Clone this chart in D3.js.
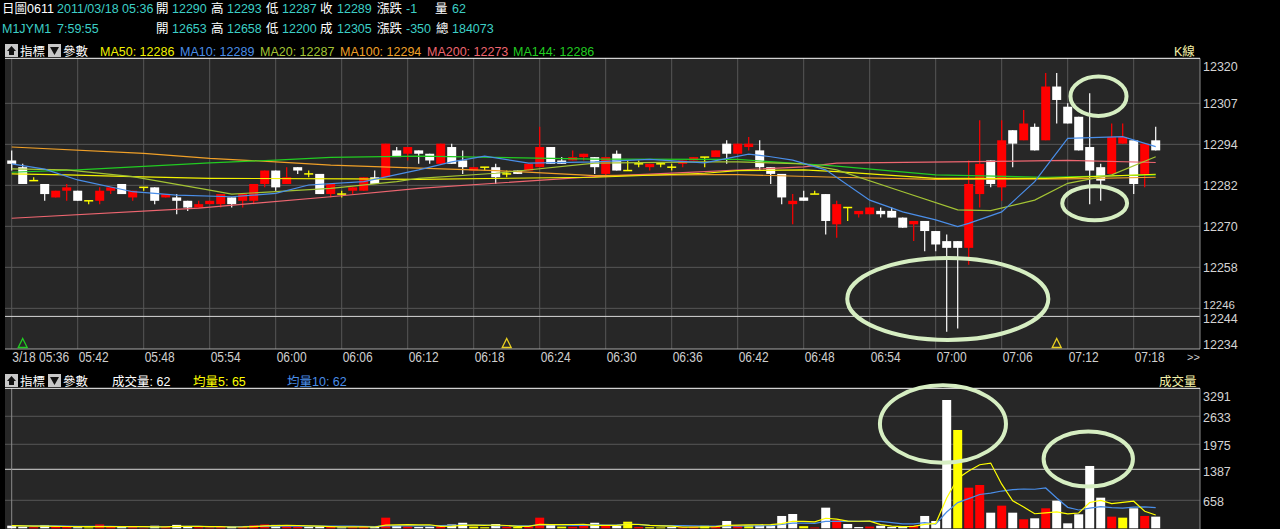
<!DOCTYPE html>
<html><head><meta charset="utf-8">
<script src="https://cdn.jsdelivr.net/npm/d3@7"></script>
<style>
html,body{margin:0;padding:0;background:#000;overflow:hidden;}
svg{display:block;}
text{font-family:"Liberation Sans","Noto Sans CJK TC",sans-serif;}
</style></head>
<body>
<svg id="c" width="1280" height="529"></svg>
<script>
// ---------------- DATA ----------------
const prevClose = 12290;
const open = [12290,12288,12284,12283,12279,12281,12281,12278,12278,12281,
12283,12279,12282,12282,12279,12279,12278,12276,12277,12277,
12279,12278,12278,12283,12287,12283,12288,12286,12286,12280,
12280,12281,12281,12285,12285,12293,12292,12293,12292,12289,
12294,12290,12287,12288,12288,12286,12287,12287,12288,12294,
12290,12290,12291,12291,12286,12292,12287,12289,12288,12289,
12288,12289,12290,12291,12291,12295,12292,12294,12293,12288,
12286,12277,12279,12280,12280,12271,12276,12274,12274,12275,
12275,12273,12271,12272,12269,12266,12266,12264,12280,12290,
12282,12299,12296,12300,12296,12312,12306,12303,12294,12288,
12286,12295,12296,12286,12296];
const high = [12293,12289,12285,12283,12281,12283,12281,12278,12282,12282,
12283,12281,12282,12282,12280,12280,12278,12278,12278,12280,
12279,12280,12283,12287,12287,12288,12288,12287,12286,12283,
12281,12282,12285,12287,12295,12294,12294,12293,12292,12295,
12295,12293,12288,12288,12289,12287,12287,12289,12300,12294,
12291,12293,12292,12291,12291,12293,12290,12290,12289,12289,
12289,12290,12291,12291,12293,12296,12295,12297,12296,12288,
12286,12280,12281,12281,12280,12278,12276,12275,12276,12276,
12276,12273,12272,12272,12269,12268,12266,12290,12302,12290,
12302,12299,12305,12301,12316,12316,12307,12303,12310,12289,
12301,12301,12296,12295,12300];
const low = [12287,12283,12284,12278,12279,12278,12278,12277,12277,12280,
12280,12278,12281,12277,12279,12274,12275,12276,12277,12276,
12276,12276,12277,12282,12281,12283,12286,12285,12280,12279,
12279,12280,12281,12283,12285,12291,12290,12289,12289,12289,
12289,12286,12287,12287,12283,12285,12286,12287,12288,12289,
12289,12290,12290,12286,12285,12287,12287,12288,12287,12288,
12287,12288,12290,12288,12291,12289,12292,12293,12287,12283,
12277,12271,12278,12280,12268,12267,12272,12273,12274,12273,
12273,12270,12266,12263,12263,12239,12240,12259,12276,12282,
12278,12288,12296,12293,12296,12301,12301,12293,12277,12278,
12286,12295,12280,12282,12293];
const close = [12289,12283,12284,12280,12281,12282,12278,12278,12281,12282,
12280,12281,12282,12278,12280,12278,12276,12277,12278,12280,
12277,12280,12283,12287,12282,12285,12287,12286,12280,12283,
12280,12282,12285,12283,12295,12291,12294,12292,12290,12295,
12289,12288,12288,12288,12285,12286,12286,12289,12294,12289,
12289,12291,12292,12288,12291,12287,12287,12289,12289,12289,
12288,12290,12291,12291,12293,12292,12295,12295,12288,12286,
12279,12278,12278,12280,12272,12277,12276,12275,12276,12274,
12273,12270,12272,12269,12265,12264,12264,12283,12289,12283,
12296,12295,12301,12293,12312,12308,12301,12293,12287,12284,
12297,12297,12283,12295,12293];
const volume = [62,40,25,78,30,35,25,20,90,30,
35,30,15,60,30,80,35,25,20,30,
40,45,70,90,80,50,40,35,50,30,
20,25,45,30,250,60,40,30,35,70,
90,130,40,25,100,35,30,40,250,80,
40,35,60,130,70,60,155,30,25,20,
30,25,40,60,45,172,60,70,70,60,
290,336,50,20,485,195,101,30,40,60,
30,30,61,290,172,3016,2311,955,1018,367,
532,367,211,235,470,650,117,329,1465,720,
274,250,470,290,274];
const volMa5 = [65,55,50,52,47,42,39,38,40,40,40,41,40,34,34,43,44,46,38,38,
30,32,41,55,65,67,66,59,51,41,35,32,34,30,74,82,85,82,83,47,
53,71,73,71,77,66,46,46,91,87,88,89,93,69,67,71,95,89,68,58,
52,26,28,35,40,68,75,81,83,86,110,165,161,151,236,217,170,166,170,85,
52,38,44,94,117,714,1170,1349,1494,1533,1037,648,499,342,363,387,337,360,606,656,
581,608,636,401,312];
const volMa10 = [62,60,58,57,55,53,47,44,46,44,41,40,39,37,37,42,43,43,36,36,
37,38,44,47,52,49,49,50,53,53,51,49,47,41,58,59,59,58,57,61,
68,78,78,77,62,60,59,60,81,82,77,68,70,80,77,80,92,91,69,63,
62,61,59,52,49,60,51,55,59,63,89,120,121,117,161,164,168,164,161,161,
135,104,105,132,101,383,604,697,794,825,876,909,924,918,948,712,493,430,474,510,
484,473,498,504,484];
// moving averages of price, read at sample candles: [candle index, value]
const ma50 = [[0,12286],[5,12285.7],[11,12285.2],[18,12284.7],[31,12284.5],[37,12284.4],[53,12285],[63,12286.2],[66,12287],[72,12287.2],[75,12286.7],[84,12284.7],[94,12284.7],[104,12285.9]];
const ma10 = [[0,12289],[3,12287.4],[6,12284.2],[11,12280.7],[15,12279.7],[20,12279.2],[24,12280.2],[27,12282.7],[32,12283.7],[37,12287.2],[40,12289.6],[43,12291.3],[47,12289.2],[53,12289.6],[58,12290.3],[63,12289.3],[67,12291.9],[69,12291.1],[71,12290.1],[74,12287.2],[78,12278.2],[81,12274.7],[84,12272.3],[86,12270.3],[87,12271.3],[90,12274.7],[93,12283.7],[96,12296.6],[101,12297.1],[104,12294.1]];
const ma20 = [[0,12287.5],[5,12287.2],[11,12285.2],[18,12281.2],[20,12280],[24,12280.7],[29,12281.7],[35,12283.7],[37,12284.7],[44,12286.2],[53,12289.2],[63,12289.6],[66,12289.6],[72,12289],[75,12287.2],[81,12280.7],[86,12275.3],[89,12275.1],[93,12278.2],[96,12283.2],[100,12285.7],[104,12291.1]];
const ma100 = [[0,12294],[12,12292.1],[18,12290.6],[24,12289.6],[29,12288.6],[37,12287.7],[44,12287],[53,12285.5],[63,12285.8],[66,12285.8],[75,12285],[84,12284.4],[96,12284.5],[104,12285]];
const ma200 = [[0,12272.8],[17,12275.8],[29,12279.2],[37,12281.7],[53,12285.2],[63,12286.7],[72,12288.1],[75,12289.2],[96,12290],[104,12289.4]];
const ma144 = [[0,12286.5],[6,12287.2],[18,12289.3],[24,12290.1],[29,12290.9],[37,12291.3],[53,12290.4],[66,12290.3],[75,12288.3],[84,12285.7],[94,12285],[104,12285.7]];
const maHeader = [["MA50","12286"],["MA10","12289"],["MA20","12287"],["MA100","12294"],["MA200","12273"],["MA144","12286"]];
const timeTickIdx = [0,6,12,18,24,30,36,42,48,54,60,66,72,78,84,90,96,102];
const timeLabels = ["3/18 05:36","05:42","05:48","05:54","06:00","06:06","06:12","06:18","06:24","06:30","06:36","06:42","06:48","06:54","07:00","07:06","07:12","07:18"];
const priceGrid = [12307,12294.8,12282.6,12270.4,12258.2,12246];
const priceGridLabels = ["12307","12294","12282","12270","12258","12246"];
const priceTop = "12320", priceBottom = "12234";
const priceMark = 12243.6, priceMarkLabel = "12244";
const volGrid = [2633,1975,658];
const volMark = 1387;
const volTop = 3291;
const signalIdx = [1,45,95];
const signalType = ["buy","sell","sell"];
// annotation ellipses: [centre index, centre value, half-width in candles, half-height in value]
const priceCircles = [[85.1,12248.8,9.14,12.2],[98.8,12309.1,2.55,5.86],[98.45,12277.3,2.95,5.06]];
const volCircles = [[84.66,2452,5.73,910],[97.87,1629,4.06,647]];

// ---------------- LAYOUT ----------------
const svg = d3.select("#c");
const L = 5, R = 1200;
const mainTop = 58.3, mainBot = 349;
const volTopY = 388.3, volBotY = 528.3;
const x = d3.scaleLinear().domain([0,104]).range([11.7,1155.7]);
const y = d3.scaleLinear().domain([12233.9,12320.4]).range([mainBot,mainTop]);
const yv = d3.scaleLinear().domain([0,volTop]).range([volBotY,volTopY]);
const CYAN = "#3ccfc6", WHITE = "#ffffff", RED = "#ff0000", YEL = "#ffff00";
const maColors = {MA50:"#f2f200",MA10:"#4a8ee8",MA20:"#a4c434",MA100:"#f0a028",MA200:"#ee6670",MA144:"#22cc22"};
const GRID = "#575757";

svg.append("rect").attr("width",1280).attr("height",529).attr("fill","#000");

// ---- header texts ----
function seg(parent, items, yb){
  items.forEach(d=>parent.append("text").attr("x",d[1]).attr("y",yb).attr("fill",d[2]).attr("font-size",12.5).text(d[0]));
}
const g0 = svg.append("g");
seg(g0,[["日圖0611",2,WHITE],["2011/03/18 05:36",57,CYAN],["開",156,WHITE],[String(open[0]),172,CYAN],["高",211,WHITE],[String(high[0]),227,CYAN],
  ["低",266,WHITE],[String(low[0]),282,CYAN],["收",320,WHITE],[String(close[0]),337,CYAN],["漲跌",377,WHITE],[String(close[0]-prevClose),406,CYAN],
  ["量",435,WHITE],[String(volume[0]),452,CYAN]],13);
seg(g0,[["M1JYM1",2,CYAN],["7:59:55",57,CYAN],["開",156,WHITE],["12653",172,CYAN],["高",211,WHITE],["12658",227,CYAN],
  ["低",266,WHITE],["12200",282,CYAN],["成",320,WHITE],["12305",337,CYAN],["漲跌",377,WHITE],["-350",406,CYAN],["總",436,WHITE],["184073",452,CYAN]],33);

function panelIcons(yTop){
  const g = svg.append("g");
  g.append("rect").attr("x",5).attr("y",yTop).attr("width",13).attr("height",13).attr("fill","#c8c8c8");
  g.append("path").attr("d",`M11.5 ${yTop+2} L16 ${yTop+7} L14 ${yTop+7} L14 ${yTop+11} L9 ${yTop+11} L9 ${yTop+7} L7 ${yTop+7} Z`).attr("fill","#111");
  g.append("text").attr("x",20).attr("y",yTop+12).attr("fill",WHITE).attr("font-size",12.5).text("指標");
  g.append("rect").attr("x",48).attr("y",yTop).attr("width",13).attr("height",13).attr("fill","#c8c8c8");
  g.append("path").attr("d",`M50 ${yTop+3} L59 ${yTop+3} L54.5 ${yTop+11} Z`).attr("fill","#111");
  g.append("text").attr("x",63).attr("y",yTop+12).attr("fill",WHITE).attr("font-size",12.5).text("參數");
}
panelIcons(44);
const maX = [100,180,260,340,427,513];
maHeader.forEach((d,i)=>svg.append("text").attr("x",maX[i]).attr("y",56).attr("fill",maColors[d[0]]).attr("font-size",12.5).text(d[0]+": "+d[1]));
svg.append("text").attr("x",1174).attr("y",56).attr("fill","#f4f0a8").attr("font-size",12.5).text("K線");

// ---- main panel ----
svg.append("rect").attr("x",L).attr("y",mainTop).attr("width",R-L).attr("height",mainBot-mainTop).attr("fill","#272727");
const gm = svg.append("g");
timeTickIdx.forEach(i=>gm.append("line").attr("x1",x(i)).attr("x2",x(i)).attr("y1",mainTop).attr("y2",mainBot).attr("stroke",GRID));
priceGrid.forEach(v=>gm.append("line").attr("x1",L).attr("x2",R).attr("y1",y(v)).attr("y2",y(v)).attr("stroke",GRID));
gm.append("line").attr("x1",L).attr("x2",R).attr("y1",y(priceMark)).attr("y2",y(priceMark)).attr("stroke","#d8d8d8");
gm.append("line").attr("x1",R).attr("x2",R).attr("y1",mainTop).attr("y2",mainBot).attr("stroke","#8a8a8a");
gm.append("line").attr("x1",L).attr("x2",R).attr("y1",mainTop).attr("y2",mainTop).attr("stroke","#ffffff");
gm.append("line").attr("x1",L).attr("x2",R).attr("y1",mainBot).attr("y2",mainBot).attr("stroke","#a8a8a8");

// candles
const idx = d3.range(open.length);
const BW = 9;
const gc = svg.append("g");
idx.forEach(i=>{
  const o=open[i], c=close[i];
  const col = c>o?RED:(c<o?WHITE:YEL);
  gc.append("line").attr("x1",x(i)).attr("x2",x(i)).attr("y1",y(high[i])).attr("y2",y(low[i])).attr("stroke",col).attr("stroke-width",1.2);
  if(c===o){
    gc.append("line").attr("x1",x(i)-BW/2).attr("x2",x(i)+BW/2).attr("y1",y(c)).attr("y2",y(c)).attr("stroke",YEL).attr("stroke-width",1.5);
  } else {
    const top=y(Math.max(o,c)), bot=y(Math.min(o,c));
    gc.append("rect").attr("x",x(i)-BW/2).attr("y",top).attr("width",BW).attr("height",Math.max(1,bot-top)).attr("fill",col);
  }
});

// MA lines
const line = d3.line().x(d=>x(d[0])).y(d=>y(d[1]));
[["MA200",ma200],["MA100",ma100],["MA144",ma144],["MA50",ma50],["MA20",ma20],["MA10",ma10]].forEach(([k,pts])=>{
  svg.append("path").attr("d",line(pts)).attr("fill","none").attr("stroke",maColors[k]).attr("stroke-width",1.2);
});

// signals
signalIdx.forEach((i,k)=>{
  const cx=x(i), col = signalType[k]==="buy"?"#22cc22":"#e8d020";
  svg.append("path").attr("d",`M${cx} 338.5 L${cx+4.5} 347.5 L${cx-4.5} 347.5 Z`).attr("fill","none").attr("stroke",col).attr("stroke-width",1.3);
});

// annotation ellipses on price panel
priceCircles.forEach(d=>{
  svg.append("ellipse").attr("cx",x(d[0])).attr("cy",y(d[1]))
    .attr("rx",x(d[0]+d[2])-x(d[0])).attr("ry",y(d[1]-d[3])-y(d[1]))
    .attr("fill","none").attr("stroke","#d6eec2").attr("stroke-width",4);
});

// price axis labels
const ga = svg.append("g").attr("font-size",12.5).attr("fill","#d4d4d4");
ga.append("text").attr("x",1203).attr("y",71).text(priceTop);
priceGrid.forEach((v,i)=>{
  const last = i===priceGrid.length-1;
  ga.append("text").attr("x",1203).attr("y",last?y(v)+1:y(v)+4.5).attr("font-size",last?11.5:12.5).text(priceGridLabels[i]);
});
ga.append("rect").attr("x",1201).attr("y",y(priceMark)-4).attr("width",40).attr("height",12).attr("fill","#000");
ga.append("text").attr("x",1203).attr("y",y(priceMark)+7).text(priceMarkLabel);
ga.append("text").attr("x",1203).attr("y",348.5).text(priceBottom);

// time axis labels (condensed)
const gt = svg.append("g").attr("fill","#cfcfcf").attr("font-size",14);
timeTickIdx.forEach((i,k)=>gt.append("text").attr("x",x(i)+(k===0?0.5:1)).attr("y",362)
  .attr("textLength",k===0?57:30).attr("lengthAdjust","spacingAndGlyphs").text(timeLabels[k]));
gt.append("text").attr("x",1187).attr("y",361).attr("font-size",11).text(">>");

// ---- volume panel ----
panelIcons(374);
svg.append("text").attr("x",112).attr("y",386).attr("fill",WHITE).attr("font-size",12.5).text("成交量: "+volume[0]);
svg.append("text").attr("x",193).attr("y",386).attr("fill",YEL).attr("font-size",12.5).text("均量5:  "+volMa5[0]);
svg.append("text").attr("x",287).attr("y",386).attr("fill","#4a8ee8").attr("font-size",12.5).text("均量10: "+volMa10[0]);
svg.append("text").attr("x",1159).attr("y",386).attr("fill","#f4f0a8").attr("font-size",12.5).text("成交量");

svg.append("rect").attr("x",L).attr("y",volTopY).attr("width",R-L).attr("height",529-volTopY).attr("fill","#272727");
const gv = svg.append("g");
volGrid.forEach(v=>gv.append("line").attr("x1",L).attr("x2",R).attr("y1",yv(v)).attr("y2",yv(v)).attr("stroke",GRID));
gv.append("line").attr("x1",L).attr("x2",R).attr("y1",yv(volMark)).attr("y2",yv(volMark)).attr("stroke","#d8d8d8");
gv.append("line").attr("x1",x(0)).attr("x2",x(0)).attr("y1",volTopY).attr("y2",529).attr("stroke","#8a8a8a");
gv.append("line").attr("x1",R).attr("x2",R).attr("y1",volTopY).attr("y2",529).attr("stroke","#8a8a8a");
gv.append("line").attr("x1",L).attr("x2",R).attr("y1",volTopY).attr("y2",volTopY).attr("stroke","#ffffff");

idx.forEach(i=>{
  const pc = i===0?prevClose:close[i-1];
  const col = close[i]>pc?RED:(close[i]<pc?WHITE:YEL);
  gv.append("rect").attr("x",x(i)-BW/2).attr("y",yv(volume[i])).attr("width",BW).attr("height",yv(0)-yv(volume[i])).attr("fill",col);
});
const vline = d3.line().x((d,i)=>x(i)).y(d=>yv(d));
gv.append("path").attr("d",vline(volMa10)).attr("fill","none").attr("stroke","#4a8ee8").attr("stroke-width",1.2);
gv.append("path").attr("d",vline(volMa5)).attr("fill","none").attr("stroke",YEL).attr("stroke-width",1.2);

volCircles.forEach(d=>{
  svg.append("ellipse").attr("cx",x(d[0])).attr("cy",yv(d[1]))
    .attr("rx",x(d[0]+d[2])-x(d[0])).attr("ry",yv(d[1]-d[3])-yv(d[1]))
    .attr("fill","none").attr("stroke","#d6eec2").attr("stroke-width",4);
});

const gva = svg.append("g").attr("font-size",12.5).attr("fill","#d4d4d4");
gva.append("text").attr("x",1203).attr("y",401).text(String(volTop));
volGrid.forEach(v=>gva.append("text").attr("x",1203).attr("y",yv(v)+6).text(String(v)));
gva.append("text").attr("x",1203).attr("y",yv(volMark)+7).text(String(volMark));
</script>
</body></html>
